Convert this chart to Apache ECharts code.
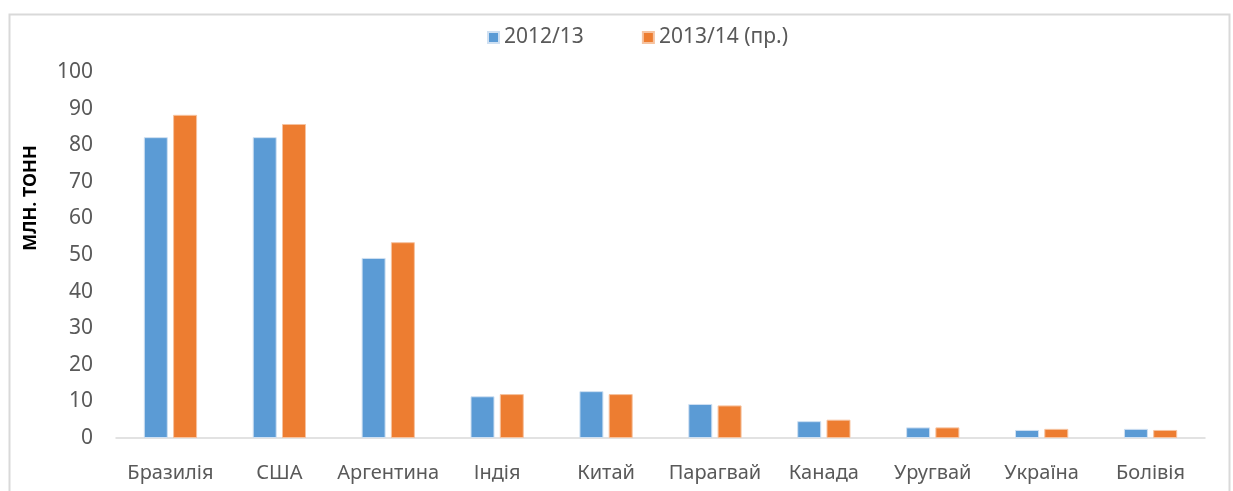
<!DOCTYPE html>
<html>
<head>
<meta charset="utf-8">
<script src="https://cdn.jsdelivr.net/npm/echarts@6/dist/echarts.min.js"></script>
<style>
  html, body { margin: 0; padding: 0; background: #fff; }
  #chart { width: 1233px; height: 491px; }
</style>
</head>
<body>
<div id="chart"></div>
<script>
// виробництво сої, млн. тонн
const countries = ["Бразилія", "США", "Аргентина", "Індія", "Китай", "Парагвай", "Канада", "Уругвай", "Україна", "Болівія"];
const season1213 = [82.2, 82.2, 49.2, 11.4, 12.8, 9.3, 4.6, 2.9, 2.2, 2.5];
const season1314 = [88.3, 85.8, 53.5, 12.0, 12.0, 8.9, 5.0, 2.9, 2.5, 2.2];
const seriesNames = ["2012/13", "2013/14 (пр.)"];

const font = "'Noto Sans', 'DejaVu Sans', sans-serif";
const myChart = echarts.init(document.getElementById("chart"));

myChart.setOption({
  animation: false,
  textStyle: { fontFamily: font },
  graphic: [
    {
      type: "rect",
      shape: { x: 9.5, y: 14.5, width: 1220, height: 490 },
      style: { fill: "none", stroke: "#d9d9d9", lineWidth: 2 }
    },
    {
      type: "text",
      x: 31,
      y: 198,
      rotation: Math.PI / 2,
      style: {
        text: "МЛН. ТОНН",
        fontFamily: font,
        fontSize: 18,
        fontWeight: "bold",
        fill: "#000",
        textAlign: "center",
        textVerticalAlign: "middle"
      }
    }
  ],
  legend: {
    top: 22,
    left: 482,
    itemWidth: 11,
    itemHeight: 11,
    itemGap: 58,
    icon: "rect",
    textStyle: { fontSize: 21, color: "#595959", fontFamily: font }
  },
  grid: { left: 116, right: 28, top: 72, bottom: 53 },
  xAxis: {
    type: "category",
    data: countries,
    axisLine: { lineStyle: { color: "#d9d9d9", width: 1.5 } },
    axisTick: { show: false },
    axisLabel: { color: "#595959", fontSize: 20, margin: 25, interval: 0 }
  },
  yAxis: {
    type: "value",
    min: 0,
    max: 100,
    interval: 10,
    splitLine: { show: false },
    axisLine: { show: false },
    axisTick: { show: false },
    axisLabel: { color: "#595959", fontSize: 21, margin: 23 }
  },
  series: [
    {
      name: seriesNames[0],
      type: "bar",
      data: season1213,
      barWidth: 24,
      barGap: "22%",
      itemStyle: { color: "#5b9bd5", borderColor: "#cfe0f2", borderWidth: 1 }
    },
    {
      name: seriesNames[1],
      type: "bar",
      data: season1314,
      barWidth: 24,
      itemStyle: { color: "#ed7d31", borderColor: "#f6c3a0", borderWidth: 1 }
    }
  ]
});
</script>
</body>
</html>
